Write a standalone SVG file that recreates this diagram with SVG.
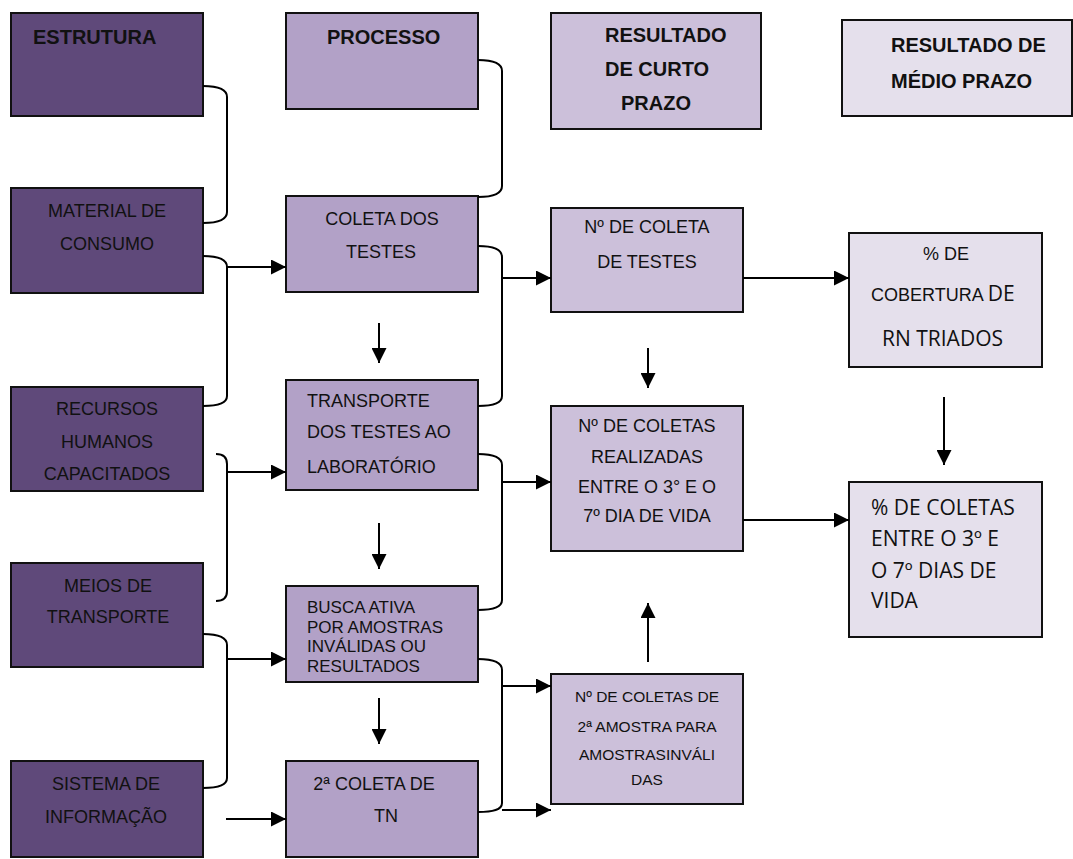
<svg xmlns="http://www.w3.org/2000/svg" width="1073" height="859" viewBox="0 0 1073 859">
<style>
.box{stroke:#111;stroke-width:2}
.d{fill:#5F497A}.m{fill:#B2A1C7}.l{fill:#CCC0DA}.x{fill:#E5E0EC}
text{font-family:"Liberation Sans",Arial,sans-serif;font-size:18px;fill:#111}
.b{font-weight:bold;font-size:20px}
.c{text-anchor:middle}
.s{font-size:17px}
.t{font-size:15.5px}
.o{font-family:"Open Sans","Noto Sans",sans-serif;font-size:21px}
.conn path{fill:none;stroke:#000;stroke-width:2}
.ar{marker-end:url(#ah)}
</style>
<defs>
<marker id="ah" markerUnits="userSpaceOnUse" markerWidth="15" markerHeight="15" refX="15" refY="7.5" orient="auto">
<path d="M0,0 L15,7.5 L0,15 z" fill="#000"/>
</marker>
</defs>
<rect width="1073" height="859" fill="#fff"/>
<g id="estrutura"><rect class="box d" x="11" y="13" width="192" height="103"/><text class="b" x="33" y="44">ESTRUTURA</text></g>
<g id="processo"><rect class="box m" x="286" y="13" width="192" height="96"/><text class="b" x="327" y="44">PROCESSO</text></g>
<g id="resultado-curto"><rect class="box l" x="551" y="13" width="210" height="116"/><text class="b" x="605" y="42">RESULTADO</text><text class="b" x="605" y="76">DE CURTO</text><text class="b c" x="656" y="110">PRAZO</text></g>
<g id="resultado-medio"><rect class="box x" x="842" y="20" width="230" height="96"/><text class="b" x="891" y="52">RESULTADO DE</text><text class="b" x="891" y="88">MÉDIO PRAZO</text></g>

<g id="material"><rect class="box d" x="11" y="188" width="192" height="105"/><text class="c" x="107" y="217">MATERIAL DE</text><text class="c" x="107" y="250">CONSUMO</text></g>
<g id="recursos"><rect class="box d" x="11" y="387" width="192" height="104"/><text class="c" x="107" y="415">RECURSOS</text><text class="c" x="107" y="448">HUMANOS</text><text class="c" x="107" y="480">CAPACITADOS</text></g>
<g id="meios"><rect class="box d" x="11" y="563" width="192" height="104"/><text class="c" x="108" y="592">MEIOS DE</text><text class="c" x="108" y="623">TRANSPORTE</text></g>
<g id="sistema"><rect class="box d" x="11" y="761" width="192" height="96"/><text class="c" x="106" y="790">SISTEMA DE</text><text class="c" x="106" y="823">INFORMAÇÃO</text></g>

<g id="coleta"><rect class="box m" x="286" y="196" width="192" height="96"/><text class="c" x="382" y="225">COLETA DOS</text><text class="c" x="381" y="258">TESTES</text></g>
<g id="transporte"><rect class="box m" x="286" y="380" width="192" height="110"/><text x="307" y="407">TRANSPORTE</text><text x="307" y="438">DOS TESTES AO</text><text x="307" y="473">LABORATÓRIO</text></g>
<g id="busca"><rect class="box m" x="286" y="586" width="192" height="96"/><text class="s" x="307" y="613">BUSCA ATIVA</text><text class="s" x="307" y="633">POR AMOSTRAS</text><text class="s" x="307" y="652">INVÁLIDAS OU</text><text class="s" x="307" y="672">RESULTADOS</text></g>
<g id="segunda-coleta"><rect class="box m" x="286" y="761" width="192" height="96"/><text class="c" x="374" y="790">2ª COLETA DE</text><text class="c" x="386" y="822">TN</text></g>

<g id="n-coleta"><rect class="box l" x="551" y="208" width="192" height="104"/><text class="c" x="647" y="233">Nº DE COLETA</text><text class="c" x="647" y="268">DE TESTES</text></g>
<g id="n-coletas-realizadas"><rect class="box l" x="551" y="406" width="192" height="145"/><text class="c" x="647" y="432">Nº DE COLETAS</text><text class="c" x="647" y="463">REALIZADAS</text><text class="c" x="647" y="493">ENTRE O 3° E O</text><text class="c" x="647" y="522">7º DIA DE VIDA</text></g>
<g id="n-coletas-2a"><rect class="box l" x="551" y="674" width="192" height="130"/><text class="c t" x="647" y="702">Nº DE COLETAS DE</text><text class="c t" x="647" y="732">2ª AMOSTRA PARA</text><text class="c t" x="647" y="760">AMOSTRASINVÁLI</text><text class="c t" x="647" y="785">DAS</text></g>

<g id="cobertura"><rect class="box x" x="849" y="233" width="193" height="134"/><text x="923" y="260">% DE</text><text x="871" y="301">COBERTURA <tspan class="o">DE</tspan></text><text class="o" x="882" y="346">RN TRIADOS</text></g>
<g id="pct-coletas"><rect class="box x" x="849" y="482" width="193" height="155"/><text class="o" x="871" y="515">% DE COLETAS</text><text class="o" x="871" y="546">ENTRE O 3º E</text><text class="o" x="871" y="578">O 7º DIAS DE</text><text class="o" x="871" y="608">VIDA</text></g>

<g id="connectors" class="conn">
<path d="M203,86 C218,86 227,89 227,97 L227,212 C227,220 218,223 203,223"/>
<path d="M478,60 C493,60 502,63 502,71 L502,186 C502,194 493,197 478,197"/>
<path d="M203,256 C218,256 227,259 227,267 L227,396 C227,403 218,406 203,406"/>
<path class="ar" d="M227,267 H286"/>
<path d="M216,454 C223,454 227,457 227,464 L227,591 C227,598 223,601 216,601"/>
<path class="ar" d="M227,472 H286"/>
<path d="M203,634 C218,634 227,637 227,645 L227,778 C227,785 218,788 203,788"/>
<path class="ar" d="M227,659 H286"/>
<path class="ar" d="M226,819 H286"/>
<path d="M478,246 C493,246 502,249 502,257 L502,396 C502,403 493,406 478,406"/>
<path class="ar" d="M502,278 H551"/>
<path d="M478,454 C493,454 502,457 502,465 L502,600 C502,607 493,610 478,610"/>
<path class="ar" d="M502,482 H551"/>
<path d="M478,659 C493,659 502,662 502,670 L502,803 C502,810 493,812 478,812"/>
<path class="ar" d="M502,686 H551"/>
<path class="ar" d="M502,810 H551"/>
<path class="ar" d="M743,278 H849"/>
<path class="ar" d="M743,520 H849"/>
<path class="ar" d="M379,323 V363"/>
<path class="ar" d="M379,523 V569"/>
<path class="ar" d="M379,698 V744"/>
<path class="ar" d="M648,348 V388"/>
<path class="ar" d="M648,662 V603"/>
<path class="ar" d="M944,397 V465"/>
</g>
</svg>
